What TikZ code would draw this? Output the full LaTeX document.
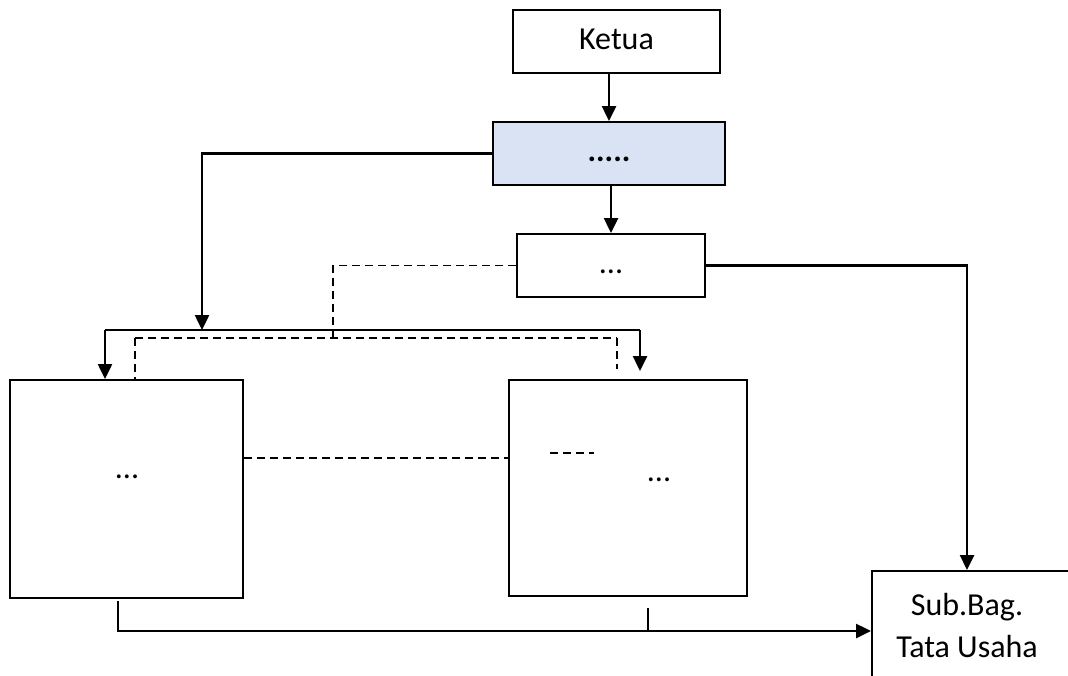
\documentclass[tikz,border=0pt]{standalone}
\usepackage{fontspec}
\setmainfont{Carlito}
\usetikzlibrary{arrows.meta}
\definecolor{biru}{HTML}{DAE3F3}
\tikzset{
  kotak/.style={draw, line width=1pt, minimum width=#1, minimum height=31.5pt,
    inner sep=0pt, text height=11pt, text depth=3pt},
  kotakbesar/.style={draw, line width=1pt, inner sep=0pt},
  teks/.style={inner sep=0pt, text height=11pt, text depth=3pt},
  panah/.style={->, line width=1.25pt},
  putus/.style={line width=0.75pt, dash pattern=on 4pt off 2.5pt}
}
\begin{document}
\begin{tikzpicture}[x=0.5pt, y=-0.5pt, >={Triangle[width=7pt,length=7.5pt]},
    line width=1pt, font=\fontsize{16}{21}\selectfont]
  \useasboundingbox (0,0) rectangle (1068,675);
  \clip (0,0) rectangle (1068,675);
  % kotak
  \node[kotak=103.5pt] (ketua) at (616.5,41.5) {Ketua};
  \node[kotak=116pt, fill=biru] (wakil) at (609,153.5) {\textbf{.....}};
  \node[kotak=94pt] (tengah) at (611,265.5) {...};
  \node[kotakbesar, minimum width=116.5pt, minimum height=109pt] (kiri) at (126.5,489) {};
  \node[teks] (kiriteks) at (127,470) {...};
  \node[kotakbesar, minimum width=119pt, minimum height=108pt] (kanan) at (628,488) {};
  \node[teks] (kananteks) at (659,473) {...};
  \node[kotakbesar, minimum width=128pt, minimum height=60pt] (subbag) at (1000,631) {};
  \node[align=center] (subbagteks) at (967,625) {Sub.Bag.\\Tata Usaha};
  % garis komando
  \coordinate (busL) at (105,330);
  \coordinate (busR) at (640,330);
  \coordinate (bagi) at (202,330);
  \draw[panah] (ketua.south -| wakil) -- (wakil.north);
  \draw[panah] (wakil.south -| tengah) -- (tengah.north);
  \draw[panah] (wakil.west) -| (bagi);
  \draw[line width=1.25pt] (busL) -- (busR);
  \draw[panah] (busL) -- (busL |- kiri.north);
  \draw[panah] (busR) -- ([yshift=4pt]busR |- kanan.north);
  \draw[panah] (tengah.east) -| (subbagteks |- subbag.north);
  \draw[panah] ([xshift=-4.25pt,yshift=-1pt]kiri.south) |- (subbag.west);
  \draw ([xshift=10pt,yshift=-5.5pt]kanan.south) -- ([xshift=10pt]kanan.south |- subbag.west);
  % garis koordinasi
  \coordinate (garisT) at (333,338);
  \coordinate (garisL) at (135,338);
  \coordinate (garisR) at (617,338);
  \draw[putus] (tengah.west) -| (garisT);
  \draw[putus] (garisL) -- (garisR);
  \draw[putus] (garisL) -- (garisL |- kiri.north);
  \draw[putus] (garisR) -- ([yshift=5pt]garisR |- kanan.north);
  \draw[putus] ([yshift=15.5pt]kiri.east) -- ([yshift=15.5pt]kiri.east -| kanan.west);
  \draw[putus] (550,453) -- (594,453);
\end{tikzpicture}
\end{document}
